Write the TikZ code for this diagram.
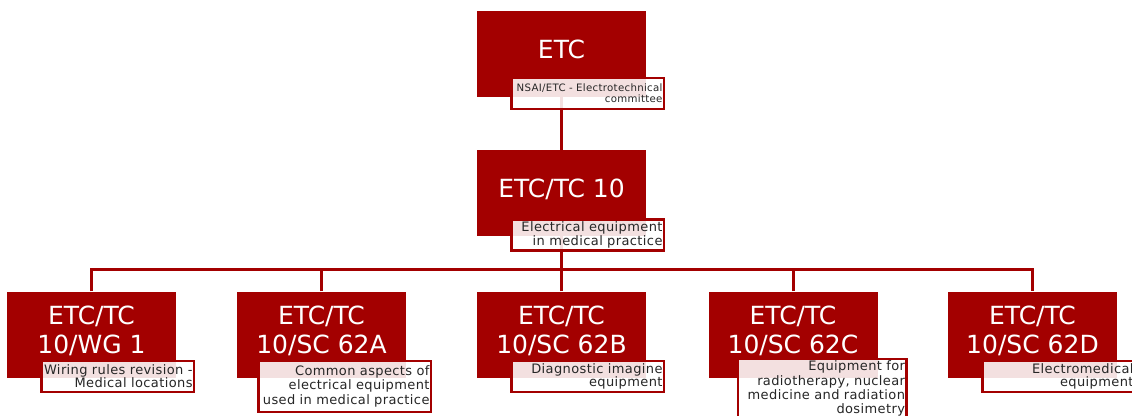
\documentclass[tikz,border=0pt]{standalone}
\usepackage{fontspec}
\newfontfamily\titlefont{DejaVu Sans}
\newfontfamily\notefont[LetterSpace=3]{DejaVu Sans}
\definecolor{etcred}{RGB}{163,0,0}
\hyphenpenalty=10000
\exhyphenpenalty=10000
\pgfdeclarelayer{wires}
\pgfsetlayers{wires,main}
\tikzset{
  unit/.style={fill=etcred, text=white, minimum width=169, minimum height=86,
    inner sep=0, align=center, text depth=9pt,
    font=\titlefont\fontsize{25}{29}\selectfont},
  note/.style={draw=etcred, line width=2.4, fill=white, fill opacity=0.88,
    text opacity=1, text=black!85, anchor=north east, align=right,
    inner xsep=1.5, inner ysep=2, text width=149.5, minimum height=31,
    font=\notefont\fontsize{13}{13.3}\selectfont},
  widenote/.style={note, minimum height=51, font=\notefont\fontsize{13}{14.3}\selectfont},
  wire/.style={draw=etcred, line width=3},
}
\begin{document}
\begin{tikzpicture}[x=1pt,y=-1pt]
    \useasboundingbox (0,0) rectangle (1132,415);
    \clip (0,0) rectangle (1132,415);

    \node[unit] (etc) at (561.5,53.5) {ETC};
    \node[unit] (tc10) at (561.5,193) {ETC/TC 10};

    \node[unit] (wg1) at (91.5,334.5) {ETC/TC\\10/WG 1};
    \node[unit] (sc62a) at (321.5,334.5) {ETC/TC\\10/SC 62A};
    \node[unit] (sc62b) at (561.5,334.5) {ETC/TC\\10/SC 62B};
    \node[unit] (sc62c) at (793,334.5) {ETC/TC\\10/SC 62C};
    \node[unit] (sc62d) at (1032.5,334.5) {ETC/TC\\10/SC 62D};

    \node[note, font=\notefont\fontsize{10.2}{11}\selectfont] (etcnote) at ([xshift=19pt,yshift=20pt]etc.south east) {NSAI/ETC - Electrotechnical\\committee};
    \node[note] (tc10note) at ([xshift=19pt,yshift=18pt]tc10.south east) {Electrical equipment\\in medical practice};
    \node[note] (wg1note) at ([xshift=19pt,yshift=18pt]wg1.south east) {Wiring rules revision -\\Medical locations};
    \node[widenote, text width=169.5] (sc62anote) at ([xshift=26pt,yshift=18pt]sc62a.south east) {Common aspects of\\electrical equipment\\used in medical practice};
    \node[note] (sc62bnote) at ([xshift=19pt,yshift=18pt]sc62b.south east) {Diagnostic imagine\\equipment};
    \node[widenote, text width=165.5] (sc62cnote) at ([xshift=30pt,yshift=20pt]sc62c.south east) {Equipment for\\radiotherapy, nuclear\\medicine and radiation\\dosimetry};
    \node[note] (sc62dnote) at ([xshift=19pt,yshift=18pt]sc62d.south east) {Electromedical\\equipment};

    \begin{pgfonlayer}{wires}
        \coordinate (bus) at (0,269);
        \draw[wire] (etc) -- (tc10);
        \draw[wire] (tc10) -- (tc10 |- bus);
        \draw[wire] (wg1) -- (wg1 |- bus) -| (sc62d);
        \foreach \n in {sc62a,sc62b,sc62c}
            \draw[wire] (\n) -- (\n |- bus);
    \end{pgfonlayer}
\end{tikzpicture}
\end{document}
